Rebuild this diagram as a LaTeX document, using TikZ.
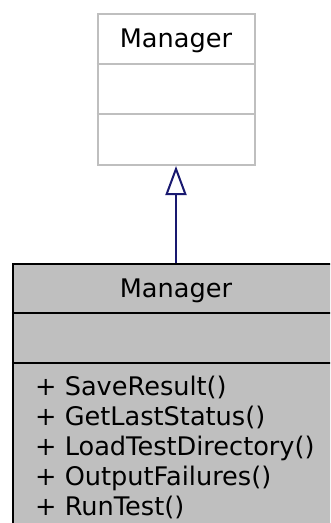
\documentclass[tikz,border=0pt]{standalone}
\usepackage{fontspec}
\setmainfont{DejaVu Sans}
\usetikzlibrary{arrows.meta}
\definecolor{boxgray}{HTML}{BFBFBF}
\definecolor{edgeblue}{HTML}{191970}
\begin{document}
\begin{tikzpicture}[x=1pt,y=1pt,
  basebox/.style={draw=boxgray,fill=white,line width=2pt,rectangle,inner sep=0pt,minimum width=157pt,minimum height=151pt},
  derivedbox/.style={draw=black,fill=boxgray,line width=2.2pt,rectangle,inner sep=0pt,minimum width=326pt,minimum height=280pt},
  lbl/.style={font=\fontsize{25.6}{30}\selectfont,inner sep=0pt,text=black},
  inherit/.style={draw=edgeblue,line width=2pt,-{Triangle[open,length=29pt,width=21pt,fill=white]}}]
\useasboundingbox (0,0) rectangle (330,-523);
\clip (0,0) rectangle (330,-523);
% base class
\node[basebox,anchor=north] (base) at (176,-13) {};
\draw[boxgray,line width=2pt] (base.west |- 0,-63.5) -- (base.east |- 0,-63.5);
\draw[boxgray,line width=2pt] (base.west |- 0,-114) -- (base.east |- 0,-114);
\node[lbl,anchor=base] (basename) at (176,-47) {Manager};
% derived class
\node[derivedbox,anchor=north] (derived) at (176,-263) {};
\draw[black,line width=2.2pt] (derived.west |- 0,-313) -- (derived.east |- 0,-313);
\draw[black,line width=2.2pt] (derived.west |- 0,-363) -- (derived.east |- 0,-363);
\node[lbl,anchor=base] (derivedname) at (176,-297) {Manager};
\node[lbl,anchor=base west] (m1) at (35,-395) {+ SaveResult()};
\node[lbl,anchor=base west] (m2) at (35,-425) {+ GetLastStatus()};
\node[lbl,anchor=base west] (m3) at (35,-455) {+ LoadTestDirectory()};
\node[lbl,anchor=base west] (m4) at (35,-485) {+ OutputFailures()};
\node[lbl,anchor=base west] (m5) at (35,-515) {+ RunTest()};
% inheritance
\draw[inherit] (derived.north) -- (base.south);
\end{tikzpicture}
\end{document}
